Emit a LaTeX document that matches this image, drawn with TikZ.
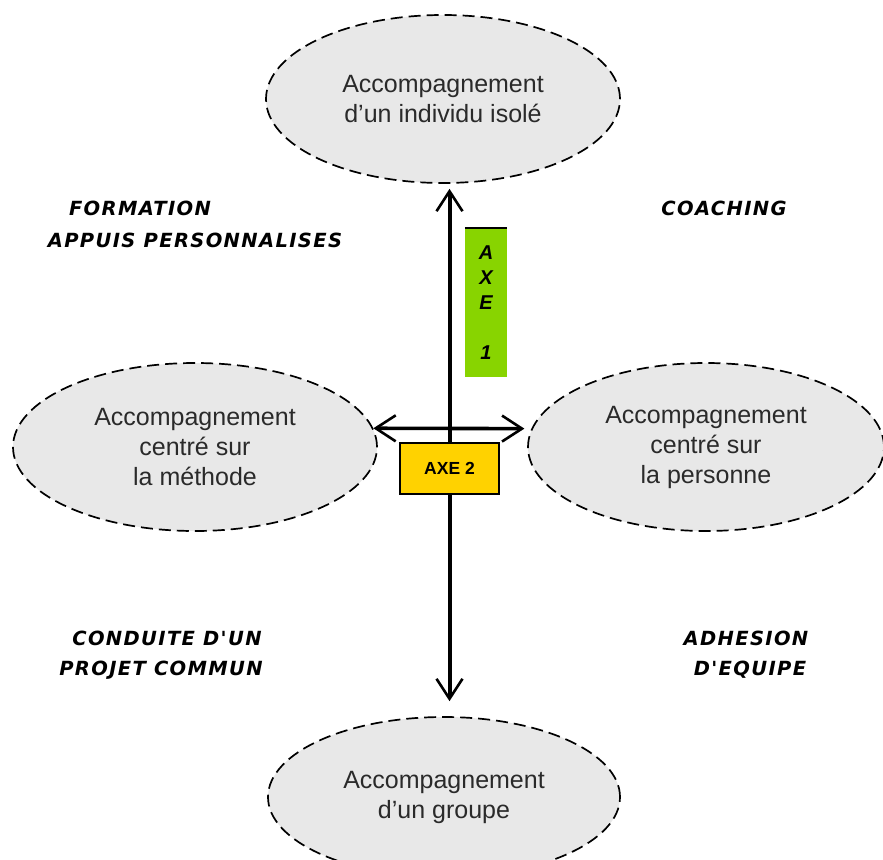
\documentclass[tikz,border=0pt]{standalone}
\usepackage{fontspec}
\setmainfont{Liberation Sans}
\newfontfamily\quadfont[LetterSpace=7]{DejaVu Sans}
\usetikzlibrary{arrows.meta,shapes.geometric}

\definecolor{ovalfill}{HTML}{E8E8E8}
\definecolor{ovaltext}{HTML}{2A2A2A}
\definecolor{axegreen}{HTML}{88D400}
\definecolor{axeyellow}{HTML}{FFD200}

\tikzset{
  oval/.style={ellipse, draw=black, fill=ovalfill, line width=1.7pt,
    dash pattern=on 12pt off 6pt, minimum width=#1, minimum height=168pt,
    inner sep=0pt, align=center, text=ovaltext,
    font=\fontsize{25}{30}\selectfont},
  quadrant/.style={font=\quadfont\bfseries\itshape\fontsize{19.5}{32}\selectfont,
    align=center, inner sep=0pt},
  axisarrow/.style={line width=4pt,
    {Straight Barb[length=20pt,width=26pt,line width=2.6pt]}-{Straight Barb[length=20pt,width=26pt,line width=2.6pt]}},
}

\begin{document}
\begin{tikzpicture}[x=1pt,y=-1pt]
  \clip (0,0) rectangle (883,859);
  \fill[white] (0,0) rectangle (883,859);

  % the four poles
  \node[oval=354pt] (top) at (443,99) {Accompagnement\\d'un individu isolé};
  \node[oval=364pt] (left) at (195,447) {Accompagnement\\centré sur\\la méthode};
  \node[oval=356pt] (right) at (706,447) {Accompagnement\\centré sur\\la personne};
  \node[oval=352pt, minimum height=160pt] (bottom) at (444,797) {\raisebox{8pt}{\begin{tabular}{@{}c@{}}Accompagnement\\d'un groupe\end{tabular}}};

  % axis 2 label box (named first, drawn over the axis below)
  \path (449.5,468.5) node[minimum width=99pt, minimum height=51pt, inner sep=0pt] (axe2) {};

  % axes
  \draw[axisarrow, shorten <=5pt, shorten >=15pt] (top.south -| axe2) -- (bottom.north -| axe2);
  \draw[axisarrow, line width=3.6pt, shorten >=7pt] (left.6) -- (right.174);

  % axis labels
  \node[draw=black, line width=1.6pt, fill=axeyellow, minimum width=99pt, minimum height=51pt,
        inner sep=0pt, font=\bfseries\fontsize{17.5}{20}\selectfont] (axe2box) at (axe2) {AXE 2};
  \node[fill=axegreen, minimum width=42pt, minimum height=149pt, inner sep=0pt,
        align=center, font=\bfseries\itshape\fontsize{20}{25}\selectfont] (axe1) at (486,302.5)
        {A\\X\\E\\[25pt]1};
  \draw[line width=1.6pt] (axe1.north west) -- (axe1.north east);

  % quadrant labels
  \node[quadrant] (q1a) at (140,208) {FORMATION};
  \node[quadrant] (q1b) at (195,240) {APPUIS PERSONNALISES};
  \node[quadrant] (q2) at (724,208) {COACHING};
  \node[quadrant] (q3a) at (167,638) {CONDUITE D'UN};
  \node[quadrant] (q3b) at (161,670) {PROJET COMMUN};
  \node[quadrant] (q4a) at (746,638) {ADHESION};
  \node[quadrant] (q4b) at (750,670) {D'EQUIPE};
\end{tikzpicture}
\end{document}
